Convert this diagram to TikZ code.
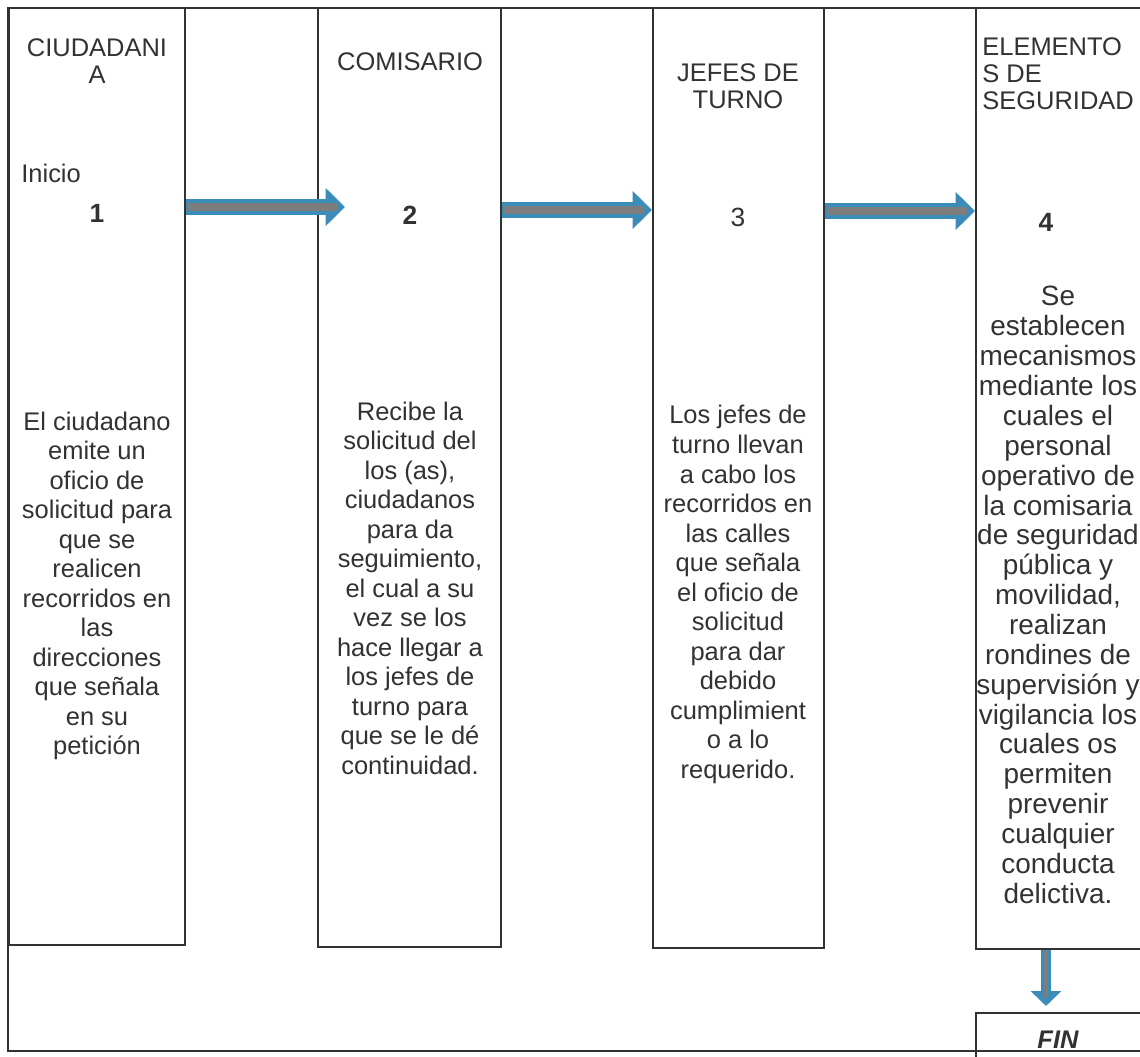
\documentclass[tikz,border=0pt]{standalone}
\usepackage{fontspec}
\setmainfont{Liberation Sans}
\usetikzlibrary{arrows.meta,calc}

\definecolor{flowblue}{RGB}{60,140,185}
\definecolor{coregray}{RGB}{125,125,125}
\definecolor{inkgray}{RGB}{50,50,50}

\begin{document}
\begin{tikzpicture}[x=0.02cm,y=-0.02cm,
    lane/.style={draw=inkgray, line width=1.2pt, rectangle, inner sep=0pt},
    head/.style={text=inkgray, align=center, inner sep=0pt, font=\fontsize{14.5}{15.4}\selectfont},
    body/.style={text=inkgray, align=center, inner sep=0pt, font=\fontsize{14.5}{16.8}\selectfont},
    stepnum/.style={text=inkgray, inner sep=1pt, font=\fontsize{15}{17}\selectfont\bfseries},
    flowarrow/.style={line width=9pt, draw=flowblue, -{Triangle[length=11pt,width=21pt]}},
    flowcore/.style={line width=5pt, draw=coregray, shorten <=1pt, shorten >=4.5pt},
    downarrow/.style={line width=5.7pt, draw=flowblue, shorten >=3.4pt, -{Triangle[length=8.5pt,width=17pt]}},
    downcore/.style={line width=2.3pt, draw=coregray, shorten >=8pt}
  ]

            \useasboundingbox (0,0) rectangle (1140,1057);
            \clip (0,0) rectangle (1140,1057);

            % Outer frame
            \draw[lane] (8,8) rectangle (1160,1051);

            % Lanes
            \node[lane, minimum width=3.52cm, minimum height=18.74cm] (ciudadania) at (97,476.5) {};
            \node[lane, minimum width=3.66cm, minimum height=18.78cm] (comisario) at (409.5,477.5) {};
            \node[lane, minimum width=3.42cm, minimum height=18.8cm] (jefes) at (738.5,478) {};
            \node[lane, minimum width=3.68cm, minimum height=18.82cm] (elementos) at (1068,478.5) {};
            \node[lane, minimum width=3.68cm, minimum height=1.54cm] (finbox) at (1068,1051.5) {};

            % Lane titles
            \node[head] (ciudadaniahead) at (97,61) {CIUDADANI\\A};
            \node[head] (comisariohead) at (410,62) {COMISARIO};
            \node[head] (jefeshead) at (738,86) {JEFES DE\\TURNO};
            \node[head, anchor=west, align=left] (elementoshead) at (982,73.5) {ELEMENTO\\S DE\\SEGURIDAD};
            \node[head, anchor=west] (inicio) at (21,173) {Inicio};

            % Step numbers
            \node[stepnum] (num1) at (97,213) {1};
            \node[stepnum] (num2) at (410,215) {2};
            \node[stepnum, font=\fontsize{15}{17}\selectfont] (num3) at (738,217) {3};
            \node[stepnum] (num4) at (1046,222) {4};

            % Step texts
            \node[body] (text1) at (97,586) {El ciudadano\\emite un\\oficio de\\solicitud para\\que se\\realicen\\recorridos en\\las\\direcciones\\que señala\\en su\\petición};
            \node[body] (text2) at (410,588) {Recibe la\\solicitud del\\los (as),\\ciudadanos\\para da\\seguimiento,\\el cual a su\\vez se los\\hace llegar a\\los jefes de\\turno para\\que se le dé\\continuidad.};
            \node[body] (text3) at (738,594.5) {Los jefes de\\turno llevan\\a cabo los\\recorridos en\\las calles\\que señala\\el oficio de\\solicitud\\para dar\\debido\\cumplimient\\o a lo\\requerido.};
            \node[body, font=\fontsize{15.9}{17}\selectfont] (text4) at (1058,595) {Se\\establecen\\mecanismos\\mediante los\\cuales el\\personal\\operativo de\\la comisaria\\de seguridad\\pública y\\movilidad,\\realizan\\rondines de\\supervisión y\\vigilancia los\\cuales os\\permiten\\prevenir\\cualquier\\conducta\\delictiva.};

            % End
            \node[head, font=\fontsize{14.5}{16}\selectfont\bfseries\itshape] (fin) at (1058,1040) {FIN};

            % Arrows
            \coordinate (arrow1end) at (345,207);
            \coordinate (arrow2y) at (0,210);
            \coordinate (arrow3y) at (0,211);
            \draw[flowarrow] (ciudadania.east |- arrow1end) -- (arrow1end);
            \draw[flowcore] (ciudadania.east |- arrow1end) -- (arrow1end);
            \draw[flowarrow] (comisario.east |- arrow2y) -- (jefes.west |- arrow2y);
            \draw[flowcore] (comisario.east |- arrow2y) -- (jefes.west |- arrow2y);
            \draw[flowarrow] (jefes.east |- arrow3y) -- (elementos.west |- arrow3y);
            \draw[flowcore] (jefes.east |- arrow3y) -- (elementos.west |- arrow3y);
            \draw[downarrow] (elementos.south -| num4) -- (finbox.north -| num4);
            \draw[downcore] (elementos.south -| num4) -- (finbox.north -| num4);
\end{tikzpicture}
\end{document}
